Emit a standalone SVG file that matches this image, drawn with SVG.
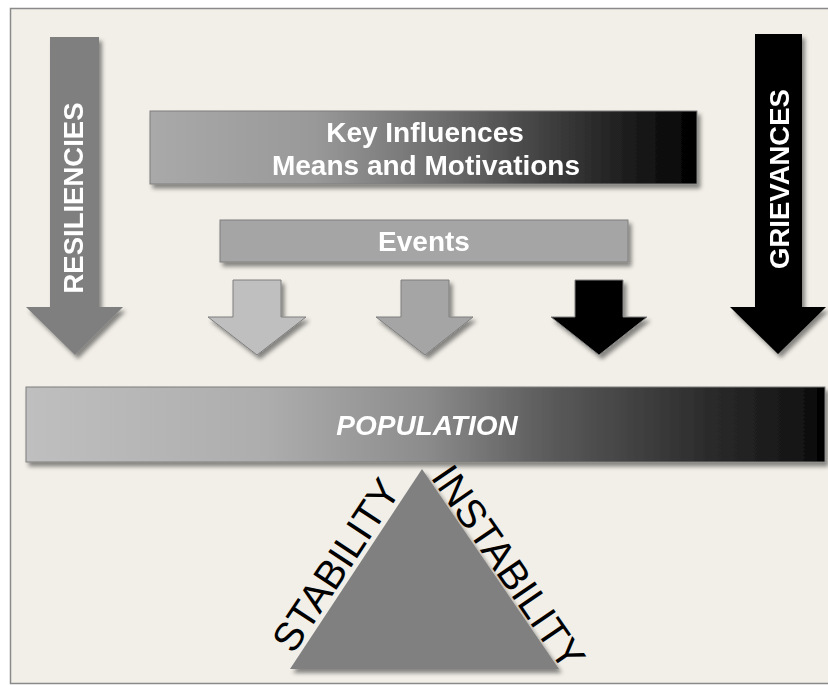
<svg xmlns="http://www.w3.org/2000/svg" width="828" height="685" viewBox="0 0 828 685">
  <defs>
    <style>
      .lbl { font-family: "Liberation Sans", Arial, sans-serif; font-weight: bold; font-size: 28px; fill: #ffffff; }
      .vlbl { font-size: 27.5px; }
      .side { font-family: "Liberation Sans", Arial, sans-serif; font-size: 40px; fill: #000000; }
      .box { stroke: #7f7f7f; stroke-width: 1; }
    </style>
    <filter id="sh" x="-10%" y="-10%" width="120%" height="130%">
      <feDropShadow dx="3" dy="4" stdDeviation="2" flood-color="#000" flood-opacity="0.45"/>
    </filter>
    <linearGradient id="gKey" x1="0" y1="0" x2="1" y2="0">
      <stop offset="0" stop-color="#a9a9a9"/>
      <stop offset="0.3" stop-color="#999999"/>
      <stop offset="0.55" stop-color="#6a6a6a"/>
      <stop offset="0.8" stop-color="#2e2e2e"/>
      <stop offset="1" stop-color="#000000"/>
    </linearGradient>
    <linearGradient id="gPop" x1="0" y1="0" x2="1" y2="0">
      <stop offset="0" stop-color="#bfbfbf"/>
      <stop offset="0.3" stop-color="#adadad"/>
      <stop offset="0.5" stop-color="#8c8c8c"/>
      <stop offset="0.65" stop-color="#5c5c5c"/>
      <stop offset="0.85" stop-color="#2c2c2c"/>
      <stop offset="0.97" stop-color="#141414"/>
      <stop offset="1" stop-color="#000000"/>
    </linearGradient>
  </defs>

  <rect x="0" y="0" width="828" height="685" fill="#ffffff"/>
  <rect x="10.5" y="8.5" width="830" height="675" fill="#f2efe8" stroke="#8a8a8a" stroke-width="1.5"/>

  <g id="resiliencies" filter="url(#sh)">
    <polygon points="50,37 99,37 99,307 123,307 75,355 26,307 50,307" fill="#7f7f7f"/>
    <text class="lbl vlbl" transform="translate(83,198) rotate(-90)" text-anchor="middle">RESILIENCIES</text>
  </g>

  <g id="grievances" filter="url(#sh)">
    <polygon points="755,34 802,34 802,307 826,307 778,354 730,307 755,307" fill="#000000"/>
    <text class="lbl vlbl" transform="translate(789,179) rotate(-90)" text-anchor="middle">GRIEVANCES</text>
  </g>

  <g id="key-influences" filter="url(#sh)">
    <rect class="box" x="150" y="111" width="547" height="73" fill="url(#gKey)"/>
    <text class="lbl" x="425" y="142" text-anchor="middle">Key Influences</text>
    <text class="lbl" x="426" y="175" text-anchor="middle">Means and Motivations</text>
  </g>

  <g id="events" filter="url(#sh)">
    <rect class="box" x="220" y="220" width="408" height="42" fill="#a5a5a5"/>
    <text class="lbl" x="424" y="251" text-anchor="middle">Events</text>
  </g>

  <g id="connectors" filter="url(#sh)">
    <polygon class="box" points="233,280 281,280 281,317 306,317 257,355 208,317 233,317" fill="#bfbfbf"/>
    <polygon class="box" points="401,280 449,280 449,317 473,317 425,355 376,317 401,317" fill="#a5a5a5"/>
    <polygon class="box" points="575,280 623,280 623,317 647,317 599,355 551,317 575,317" fill="#000000"/>
  </g>

  <g id="population" filter="url(#sh)">
    <rect class="box" x="26" y="387" width="799" height="75" fill="url(#gPop)"/>
    <text class="lbl" x="427" y="435" text-anchor="middle" font-style="italic">POPULATION</text>
  </g>

  <g id="balance">
    <polygon points="422,469 559,669 290,669" fill="#808080" filter="url(#sh)"/>
    <text class="side" transform="translate(347.5,572.7) rotate(-56.6)" text-anchor="middle">STABILITY</text>
    <text class="side" transform="translate(497,575) rotate(55.6)" text-anchor="middle">INSTABILITY</text>
  </g>
</svg>
